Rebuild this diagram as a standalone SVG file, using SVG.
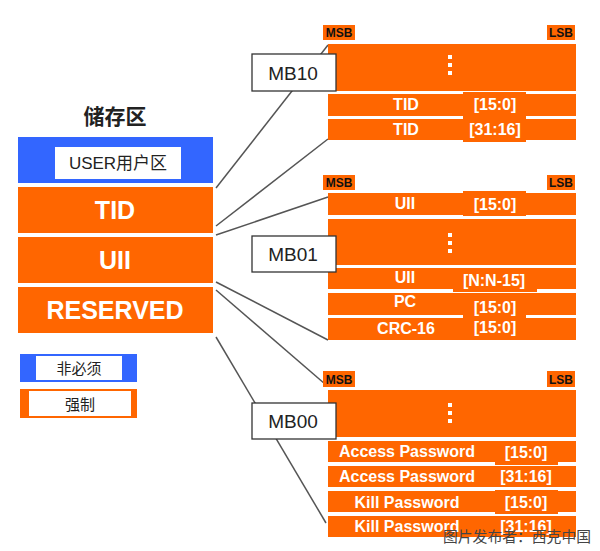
<svg xmlns="http://www.w3.org/2000/svg" width="600" height="551" viewBox="0 0 600 551">
<style>
.or{fill:#FF6600}
.bl{fill:#3366FF}
.wb{fill:#fff}
.mb{fill:#fff;stroke:#333;stroke-width:1.3}
.ln{stroke:#555;stroke-width:1.5;fill:none}
.big{font-family:"Liberation Sans",Arial,sans-serif;font-weight:bold;font-size:25px;fill:#fff;text-anchor:middle}
.row{font-family:"Liberation Sans",Arial,sans-serif;font-weight:bold;font-size:16px;fill:#fff;text-anchor:middle}
.sb{font-family:"Liberation Sans",Arial,sans-serif;font-weight:bold;font-size:12px;fill:#111;text-anchor:middle}
.mbt{font-family:"Liberation Sans",Arial,sans-serif;font-size:19px;fill:#222;text-anchor:middle}
.cjk{font-family:"Liberation Sans","Noto Sans CJK SC",sans-serif;fill:#222;text-anchor:middle}
.dot{fill:#fff}
</style>
<rect width="600" height="551" fill="#fff"/>

<g id="connectors">
<line class="ln" x1="216" y1="188" x2="328" y2="45"/>
<line class="ln" x1="216" y1="226" x2="328" y2="139"/>
<line class="ln" x1="216" y1="235" x2="328" y2="197"/>
<line class="ln" x1="216" y1="282" x2="328" y2="340"/>
<line class="ln" x1="216" y1="290" x2="325" y2="384"/>
<line class="ln" x1="216" y1="337" x2="326" y2="523"/>
</g>

<g id="title"><text class="cjk" x="115" y="124" font-size="21" font-weight="bold">储存区</text></g>

<g id="user">
<rect class="bl" x="18" y="137" width="195" height="46"/>
<rect class="wb" x="55" y="147" width="126" height="32"/>
<text class="cjk" x="118" y="169" font-size="17">USER用户区</text>
</g>
<g id="tid">
<rect class="or" x="18" y="187" width="195" height="46"/>
<text class="big" x="115" y="219">TID</text>
</g>
<g id="uii">
<rect class="or" x="18" y="237" width="195" height="46"/>
<text class="big" x="115" y="269">UII</text>
</g>
<g id="reserved">
<rect class="or" x="18" y="287" width="195" height="46"/>
<text class="big" x="115" y="319">RESERVED</text>
</g>

<g id="legend-optional">
<rect class="bl" x="20" y="354" width="117" height="28"/>
<rect class="wb" x="36" y="356" width="86" height="24"/>
<text class="cjk" x="79" y="374" font-size="15">非必须</text>
</g>
<g id="legend-mandatory">
<rect class="or" x="20" y="389" width="117" height="29"/>
<rect class="wb" x="29" y="391" width="102" height="25"/>
<text class="cjk" x="80" y="410" font-size="15">强制</text>
</g>

<!-- MB10 -->
<g id="mb10-block">
<rect class="or" x="323" y="25" width="32" height="15"/><text class="sb" x="339" y="37">MSB</text>
<rect class="or" x="547" y="25" width="28" height="15"/><text class="sb" x="561" y="37">LSB</text>
<rect class="or" x="328" y="44" width="248" height="47"/>
<rect class="dot" x="448" y="55" width="4" height="4"/><rect class="dot" x="448" y="63" width="4" height="4"/><rect class="dot" x="448" y="71" width="4" height="4"/>
<rect class="or" x="328" y="94" width="248" height="22"/>
<rect class="or" x="463" y="92" width="63" height="26"/>
<text class="row" x="406" y="110">TID</text><text class="row" x="495" y="110">[15:0]</text>
<rect class="or" x="328" y="119" width="248" height="21"/>
<rect class="or" x="463" y="118" width="63" height="24"/>
<text class="row" x="406" y="135">TID</text><text class="row" x="495" y="135">[31:16]</text>
</g>
<g id="mb10"><rect class="mb" x="252" y="54" width="84" height="37"/><text class="mbt" x="293" y="80">MB10</text></g>

<!-- MB01 -->
<g id="mb01-block">
<rect class="or" x="323" y="175" width="32" height="15"/><text class="sb" x="339" y="187">MSB</text>
<rect class="or" x="547" y="175" width="28" height="15"/><text class="sb" x="561" y="187">LSB</text>
<rect class="or" x="328" y="193" width="248" height="22"/>
<rect class="or" x="463" y="191" width="63" height="25"/>
<text class="row" x="405" y="209">UII</text><text class="row" x="495" y="210">[15:0]</text>
<rect class="or" x="328" y="219" width="248" height="46"/>
<rect class="dot" x="448" y="233" width="4" height="4"/><rect class="dot" x="448" y="241" width="4" height="4"/><rect class="dot" x="448" y="249" width="4" height="4"/>
<rect class="or" x="328" y="268" width="248" height="21"/>
<rect class="or" x="453" y="268" width="84" height="24"/>
<text class="row" x="405" y="283">UII</text><text class="row" x="494" y="286">[N:N-15]</text>
<rect class="or" x="328" y="293" width="248" height="22"/>
<rect class="or" x="463" y="297" width="63" height="21"/>
<text class="row" x="405" y="307">PC</text><text class="row" x="495" y="313">[15:0]</text>
<rect class="or" x="328" y="318" width="248" height="22"/>
<text class="row" x="406" y="334">CRC-16</text><text class="row" x="495" y="333">[15:0]</text>
</g>
<g id="mb01"><rect class="mb" x="252" y="236" width="84" height="36"/><text class="mbt" x="293" y="261">MB01</text></g>

<!-- MB00 -->
<g id="mb00-block">
<rect class="or" x="323" y="371" width="32" height="16"/><text class="sb" x="339" y="384">MSB</text>
<rect class="or" x="547" y="371" width="28" height="16"/><text class="sb" x="561" y="384">LSB</text>
<rect class="or" x="328" y="390" width="248" height="47"/>
<rect class="dot" x="448" y="403" width="4" height="4"/><rect class="dot" x="448" y="411" width="4" height="4"/><rect class="dot" x="448" y="419" width="4" height="4"/>
<rect class="or" x="328" y="441" width="248" height="21"/>
<rect class="or" x="495" y="441" width="63" height="24"/>
<text class="row" x="407" y="457">Access Password</text><text class="row" x="526" y="458">[15:0]</text>
<rect class="or" x="328" y="466" width="248" height="21"/>
<text class="row" x="407" y="482">Access Password</text><text class="row" x="526" y="482">[31:16]</text>
<rect class="or" x="328" y="491" width="248" height="21"/>
<rect class="or" x="495" y="490" width="63" height="24"/>
<text class="row" x="407" y="508">Kill Password</text><text class="row" x="526" y="508">[15:0]</text>
<rect class="or" x="328" y="516" width="248" height="21"/>
<text class="row" x="407" y="532">Kill Password</text><text class="row" x="526" y="532">[31:16]</text>
</g>
<g id="mb00"><rect class="mb" x="252" y="403" width="84" height="36"/><text class="mbt" x="293" y="428">MB00</text></g>

<g id="watermark"><text x="517" y="542" font-family="'Noto Sans CJK SC',sans-serif" font-size="14.8" fill="#444" text-anchor="middle">图片发布者：西克中国</text></g>
</svg>
